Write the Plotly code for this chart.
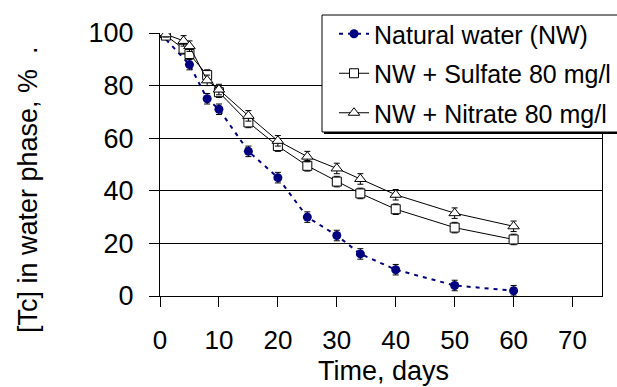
import plotly.graph_objects as go

# Data
days_nw = [0, 5, 8, 10, 15, 20, 25, 30, 34, 40, 50, 60]
tc_nw = [100, 88, 75, 71, 55, 45, 30, 23, 16, 10, 4, 2]
err_nw = [1, 2, 2, 2, 2, 2, 2, 2, 2, 2, 2, 2]

days_s = [0, 1, 4, 5, 8, 10, 15, 20, 25, 30, 34, 40, 50, 60]
tc_sulfate = [100, 99, 94, 92, 84, 77.5, 66, 57, 49.5, 43.5, 39, 33, 26, 21.5]
err_sulfate = [1, 1, 2, 2, 2, 2, 2, 2, 2, 2, 2, 2, 2, 2]

days_n = [0, 1, 4, 5, 8, 10, 15, 20, 25, 30, 34, 40, 50, 60]
tc_nitrate = [100, 99.5, 97, 95, 82, 78.5, 68.5, 59, 53, 48.5, 44.5, 38.5, 31.5, 26.5]
err_nitrate = [1, 1, 2, 2, 2, 2, 2, 2, 2, 2, 2, 2, 2, 2]

x_ticks = [0, 10, 20, 30, 40, 50, 60, 70]
y_ticks = [0, 20, 40, 60, 80, 100]

FONT = "Liberation Sans, Arial, sans-serif"
W, H = 617, 387
ML, MR, MT, MB = 160, 15, 33, 91
PW, PH = W - ML - MR, H - MT - MB

def px_x(p):
    return (p - ML) / PW

def px_y(p):
    return (H - MB - p) / PH

fig = go.Figure()

fig.add_trace(go.Scatter(
    x=days_nw, y=tc_nw, name="Natural water (NW)", mode="lines+markers",
    line=dict(color="#000080", width=2, dash="4px,5px"),
    marker=dict(symbol="circle", size=9, color="#000080"),
    error_y=dict(type="data", array=err_nw, color="black", thickness=1, width=3),
    legendgroup="a",
))
fig.add_trace(go.Scatter(
    x=days_s, y=tc_sulfate, name="NW + Sulfate 80 mg/l", mode="lines+markers",
    line=dict(color="black", width=1),
    marker=dict(symbol="square", size=9, color="white", line=dict(color="black", width=1)),
    error_y=dict(type="data", array=err_sulfate, color="black", thickness=1, width=3),
    legendgroup="b",
))
fig.add_trace(go.Scatter(
    x=days_n, y=tc_nitrate, name="NW + Nitrate 80 mg/l", mode="lines+markers",
    line=dict(color="black", width=1),
    marker=dict(symbol="triangle-up", size=10, color="white", line=dict(color="black", width=1)),
    error_y=dict(type="data", array=err_nitrate, color="black", thickness=1, width=3),
    legendgroup="c",
))

# legend box with shadow
fig.add_shape(type="rect", xref="paper", yref="paper",
              x0=px_x(324), x1=px_x(640), y0=px_y(134), y1=px_y(17),
              fillcolor="black", line=dict(width=0), layer="above")
fig.add_shape(type="rect", xref="paper", yref="paper",
              x0=px_x(322), x1=px_x(638), y0=px_y(132), y1=px_y(15),
              fillcolor="white", line=dict(color="black", width=1), layer="above")

fig.add_annotation(
    text="[Tc] in water phase, %  .", textangle=-90, showarrow=False,
    xref="paper", yref="paper", x=px_x(28), y=px_y(190),
    xanchor="center", yanchor="middle",
    font=dict(family=FONT, size=27, color="black"),
)
fig.add_annotation(
    text="Time, days", showarrow=False,
    xref="paper", yref="paper", x=px_x(383), y=px_y(371),
    xanchor="center", yanchor="middle",
    font=dict(family=FONT, size=27, color="black"),
)

fig.update_layout(
    width=W, height=H,
    margin=dict(l=ML, r=MR, t=MT, b=MB, autoexpand=False),
    paper_bgcolor="white", plot_bgcolor="white",
    font=dict(family=FONT, color="black"),
    showlegend=True,
    legend=dict(
        x=px_x(334), y=px_y(11), xanchor="left", yanchor="top",
        bgcolor="rgba(0,0,0,0)", borderwidth=0,
        font=dict(family=FONT, size=25, color="black"),
        tracegroupgap=4,
    ),
    xaxis=dict(
        range=[0, 75], tickvals=x_ticks, ticks="outside", ticklen=10,
        tickcolor="black", showline=True, linecolor="black", linewidth=1,
        showgrid=False, zeroline=False, tickfont=dict(size=26, color="black"),
        ticklabelstandoff=11,
    ),
    yaxis=dict(
        range=[0, 100], tickvals=y_ticks, ticks="outside", ticklen=10,
        tickcolor="black", showline=True, linecolor="black", linewidth=1, mirror=True,
        showgrid=True, gridcolor="black", gridwidth=1, zeroline=False,
        tickfont=dict(size=27, color="black"), ticklabelstandoff=10,
    ),
)

fig.write_html("out.html")
